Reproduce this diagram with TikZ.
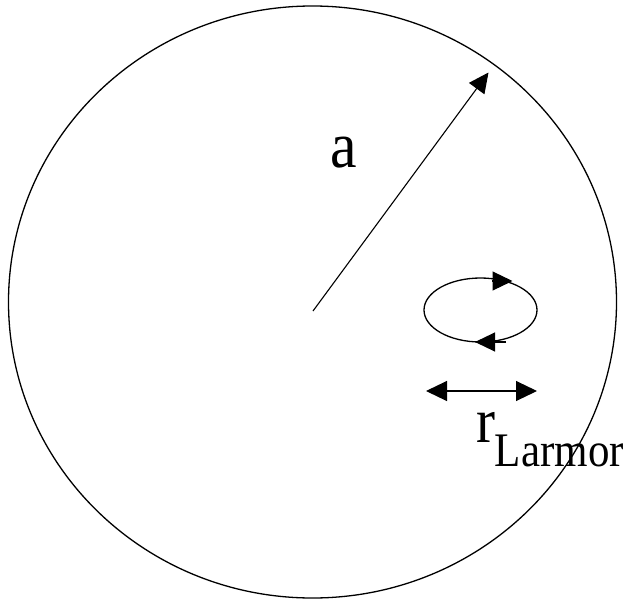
\documentclass[tikz,border=0pt]{standalone}
\usepackage{fontspec}
\setmainfont{Liberation Serif}
\usetikzlibrary{arrows.meta}
\tikzset{
  ln/.style={line width=1.3pt, black},
  arr/.style={line width=1.1pt, -{Triangle[length=20pt,width=19pt]}},
  darr/.style={line width=1.1pt, {Triangle[length=21pt,width=20pt]}-{Triangle[length=21pt,width=20pt]}},
  lbl/.style={inner sep=0pt, outer sep=0pt}
}
\begin{document}
\begin{tikzpicture}[x=1pt,y=-1pt]
\useasboundingbox (0,0) rectangle (626,602);
% big circle
\draw[ln] (312.5,302) ellipse [x radius=304, y radius=296];
% radius arrow
\coordinate (ctr) at (313,311);
\coordinate (rim) at (488.5,72.5);
\draw[arr] (ctr) -- (rim);
\node[lbl, anchor=base] (a) at (344,167) {\scalebox{1.03}[1.12]{\fontsize{58}{60}\selectfont a}};
% small orbit
\draw[ln] (480.5,310) ellipse [x radius=56.5, y radius=32];
\coordinate (t1) at (492,281);
\coordinate (t2) at (512.5,281);
\draw[arr] (t1) -- (t2);
\coordinate (b1) at (506,342);
\coordinate (b2) at (475,342);
\draw[arr] (b1) -- (b2);
% Larmor radius
\coordinate (l1) at (426,391);
\coordinate (l2) at (537,391);
\draw[darr] (l1) -- (l2);
\node[lbl, anchor=base west] (rl) at (476,442) {\scalebox{1}[1.12]{\fontsize{57}{60}\selectfont r\raisebox{-22.3pt}{\fontsize{43}{45}\selectfont Larmor}}};
\end{tikzpicture}
\end{document}
